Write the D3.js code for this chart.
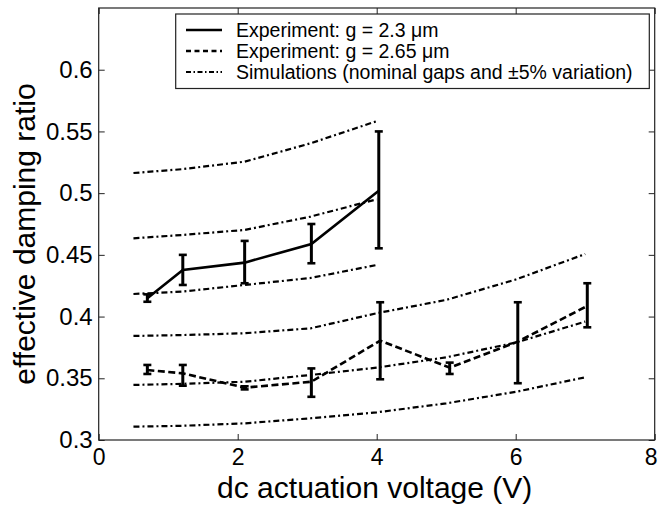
<!DOCTYPE html>
<html>
<head>
<meta charset="utf-8">
<script src="https://cdn.jsdelivr.net/npm/d3@7"></script>
<style>
  html, body { margin: 0; padding: 0; background: #fff; }
  svg { display: block; font-family: Arial, "Liberation Sans", Helvetica, sans-serif; }
</style>
</head>
<body>
<svg id="chart" width="660" height="506"></svg>
<script>
// Measured damping ratio vs. dc actuation voltage, gap g = 2.3 um
const voltage23 = [0.7, 1.21, 2.1, 3.06, 4.03];
const zeta23    = [0.4148, 0.4378, 0.4437, 0.4588, 0.502];
const err23Lo   = [0.412, 0.4256, 0.427, 0.4432, 0.4553];
const err23Hi   = [0.418, 0.450, 0.4613, 0.475, 0.550];

// Measured damping ratio, gap g = 2.65 um
const voltage265 = [0.7, 1.21, 2.1, 3.06, 4.05, 5.05, 6.03, 7.03];
const zeta265    = [0.3567, 0.354, 0.3424, 0.3472, 0.3805, 0.3586, 0.3797, 0.4086];
const err265Lo   = [0.3535, 0.344, 0.341, 0.335, 0.3492, 0.3535, 0.346, 0.3913];
const err265Hi   = [0.3608, 0.3608, 0.3435, 0.358, 0.4116, 0.3627, 0.4116, 0.427];

// Simulations: nominal gap and +/-5% gap variation
const simVoltage23 = [0.5, 1.2, 2.1, 3.05, 4.0];
const sim23Wide    = [0.4183, 0.4202, 0.4256, 0.4313, 0.4418];
const sim23Nominal = [0.4634, 0.4661, 0.4702, 0.481, 0.4950];
const sim23Narrow  = [0.5163, 0.5194, 0.5255, 0.5404, 0.5583];

const simVoltage265 = [0.5, 1.2, 2.1, 3.05, 4.0, 5.0, 6.0, 7.0];
const sim265Wide    = [0.3108, 0.3115, 0.3135, 0.3176, 0.3224, 0.3297, 0.339, 0.3508];
const sim265Nominal = [0.3446, 0.3455, 0.3472, 0.3527, 0.3586, 0.367, 0.3789, 0.3959];
const sim265Narrow  = [0.3843, 0.385, 0.3865, 0.3905, 0.4027, 0.4135, 0.430, 0.4507];

const xTicks = [0, 2, 4, 6, 8];
const yTicks = [0.3, 0.35, 0.4, 0.45, 0.5, 0.55, 0.6];
const legendLabels = [
  "Experiment: g = 2.3 \u03bcm",
  "Experiment: g = 2.65 \u03bcm",
  "Simulations (nominal gaps and \u00b15% variation)"
];

const svg = d3.select("#chart");
const plotLeft = 98.7, plotRight = 654.7, plotTop = 8, plotBottom = 440;

const x = d3.scaleLinear().domain([0, 8]).range([plotLeft, plotRight]);
const y = d3.scaleLinear().domain([0.3, 0.65]).range([plotBottom, plotTop]);

const DASHDOT = "6,3,2,3";
const DASHED = "7,3.5";

// axes box with inward ticks on all four sides
const tickLen = 6;
svg.append("g").attr("transform", `translate(0,${plotBottom})`)
  .call(d3.axisBottom(x).tickValues(xTicks).tickSizeInner(-tickLen).tickSizeOuter(0).tickPadding(9).tickFormat(d3.format("d")))
  .call(g => g.selectAll("text").attr("font-size", 23).attr("fill", "#000")
    .attr("dx", d => d === 8 ? -4 : 0));
svg.append("g").attr("transform", `translate(0,${plotTop})`)
  .call(d3.axisTop(x).tickValues(xTicks).tickSizeInner(-tickLen).tickSizeOuter(0).tickFormat(""));
svg.append("g").attr("transform", `translate(${plotLeft},0)`)
  .call(d3.axisLeft(y).tickValues(yTicks).tickSizeInner(-tickLen).tickSizeOuter(0).tickPadding(6).tickFormat(d => String(+d.toFixed(2))))
  .call(g => g.selectAll("text").attr("font-size", 24).attr("fill", "#000"));
svg.append("g").attr("transform", `translate(${plotRight},0)`)
  .call(d3.axisRight(y).tickValues(yTicks).tickSizeInner(-tickLen).tickSizeOuter(0).tickFormat(""));
svg.selectAll(".domain").remove();
svg.selectAll(".tick line").attr("stroke", "#222").attr("stroke-width", 1);
svg.append("rect")
  .attr("x", plotLeft).attr("y", plotTop).attr("width", plotRight - plotLeft).attr("height", plotBottom - plotTop)
  .attr("fill", "none").attr("stroke", "#222").attr("stroke-width", 1.2);

// axis titles
svg.append("text")
  .attr("x", (plotLeft + plotRight) / 2 - 2).attr("y", 498)
  .attr("text-anchor", "middle").attr("font-size", 30)
  .text("dc actuation voltage (V)");
svg.append("text")
  .attr("transform", `translate(35,234) rotate(-90)`)
  .attr("text-anchor", "middle").attr("font-size", 30)
  .text("effective damping ratio");

const line = d3.line().x(d => x(d[0])).y(d => y(d[1]));
const plot = svg.append("g");

function drawSeries(xs, ys, dash, width) {
  plot.append("path")
    .datum(xs.map((v, i) => [v, ys[i]]))
    .attr("d", line)
    .attr("fill", "none").attr("stroke", "#000")
    .attr("stroke-width", width)
    .attr("stroke-dasharray", dash);
}

// simulation curves
[sim23Wide, sim23Nominal, sim23Narrow].forEach(s => drawSeries(simVoltage23, s, DASHDOT, 2.2));
[sim265Wide, sim265Nominal, sim265Narrow].forEach(s => drawSeries(simVoltage265, s, DASHDOT, 2.2));

// experimental curves
drawSeries(voltage23, zeta23, null, 2.6);
drawSeries(voltage265, zeta265, DASHED, 2.6);

// error bars
function drawErrors(xs, lo, hi) {
  const g = plot.append("g").attr("stroke", "#000").attr("stroke-width", 3);
  xs.forEach((v, i) => {
    const cx = x(v);
    g.append("line").attr("x1", cx).attr("x2", cx).attr("y1", y(lo[i])).attr("y2", y(hi[i]));
    [lo[i], hi[i]].forEach(e => {
      g.append("line").attr("x1", cx - 4).attr("x2", cx + 4).attr("y1", y(e)).attr("y2", y(e))
        .attr("stroke-width", 2.6);
    });
  });
}
drawErrors(voltage23, err23Lo, err23Hi);
drawErrors(voltage265, err265Lo, err265Hi);

// legend
const lg = svg.append("g");
lg.append("rect")
  .attr("x", 175.7).attr("y", 14).attr("width", 649.3 - 175.7).attr("height", 88.5 - 14)
  .attr("fill", "#fff").attr("stroke", "#222").attr("stroke-width", 1.2);
const legendStyles = [[null, 2.6], ["5,3.5", 2.4], ["5,2.5,1.5,2.5", 2]];
legendLabels.forEach((lab, i) => {
  const cy = 30 + i * 21;
  lg.append("line")
    .attr("x1", 186).attr("x2", 222).attr("y1", cy).attr("y2", cy)
    .attr("stroke", "#000").attr("stroke-width", legendStyles[i][1])
    .attr("stroke-dasharray", legendStyles[i][0]);
  lg.append("text")
    .attr("x", 236).attr("y", cy + 7)
    .attr("font-size", 19.5)
    .text(lab);
});
</script>
</body>
</html>
